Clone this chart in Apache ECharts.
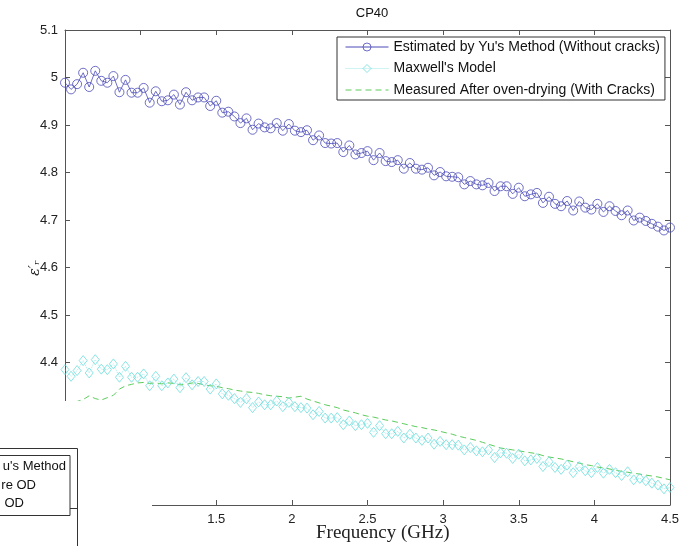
<!DOCTYPE html>
<html>
<head>
<meta charset="utf-8">
<script src="https://cdn.jsdelivr.net/npm/echarts@6/dist/echarts.min.js"></script>
<style>html,body{margin:0;padding:0;background:#fff;}#c{width:692px;height:546px;}</style>
</head>
<body>
<div id="c"></div>
<script>
var freq = [0.50,0.54,0.58,0.62,0.66,0.70,0.74,0.78,0.82,0.86,
 0.90,0.94,0.98,1.02,1.06,1.10,1.14,1.18,1.22,1.26,
 1.30,1.34,1.38,1.42,1.46,1.50,1.54,1.58,1.62,1.66,
 1.70,1.74,1.78,1.82,1.86,1.90,1.94,1.98,2.02,2.06,
 2.10,2.14,2.18,2.22,2.26,2.30,2.34,2.38,2.42,2.46,
 2.50,2.54,2.58,2.62,2.66,2.70,2.74,2.78,2.82,2.86,
 2.90,2.94,2.98,3.02,3.06,3.10,3.14,3.18,3.22,3.26,
 3.30,3.34,3.38,3.42,3.46,3.50,3.54,3.58,3.62,3.66,
 3.70,3.74,3.78,3.82,3.86,3.90,3.94,3.98,4.02,4.06,
 4.10,4.14,4.18,4.22,4.26,4.30,4.34,4.38,4.42,4.46,
 4.50];
var yuMethod = [4.989,4.975,4.986,5.010,4.980,5.014,4.993,4.989,5.003,4.969,
 4.995,4.968,4.968,4.978,4.947,4.971,4.950,4.952,4.964,4.943,
 4.969,4.952,4.958,4.958,4.940,4.951,4.926,4.928,4.918,4.904,
 4.914,4.890,4.903,4.895,4.893,4.904,4.888,4.902,4.888,4.885,
 4.889,4.868,4.878,4.862,4.861,4.862,4.843,4.857,4.838,4.841,
 4.845,4.826,4.841,4.824,4.822,4.826,4.808,4.820,4.808,4.806,
 4.810,4.794,4.801,4.792,4.791,4.790,4.775,4.782,4.775,4.773,
 4.778,4.761,4.771,4.771,4.755,4.768,4.750,4.754,4.757,4.736,
 4.749,4.734,4.729,4.740,4.720,4.739,4.726,4.722,4.734,4.717,
 4.729,4.719,4.710,4.720,4.699,4.705,4.698,4.692,4.686,4.678,
 4.684];
var maxwell = [4.385,4.371,4.383,4.404,4.378,4.406,4.386,4.385,4.397,4.369,
 4.392,4.369,4.369,4.376,4.351,4.371,4.351,4.357,4.365,4.347,
 4.368,4.353,4.360,4.360,4.344,4.355,4.334,4.331,4.324,4.316,
 4.324,4.305,4.317,4.311,4.311,4.319,4.307,4.316,4.307,4.305,
 4.304,4.290,4.297,4.283,4.283,4.284,4.269,4.277,4.267,4.269,
 4.272,4.253,4.267,4.250,4.250,4.255,4.241,4.249,4.241,4.236,
 4.241,4.228,4.234,4.227,4.227,4.226,4.216,4.221,4.214,4.212,
 4.216,4.200,4.210,4.209,4.198,4.207,4.193,4.195,4.198,4.181,
 4.191,4.179,4.175,4.184,4.168,4.181,4.172,4.168,4.179,4.167,
 4.175,4.168,4.162,4.170,4.153,4.156,4.151,4.146,4.142,4.134,
 4.137];
var measured = [4.318,4.315,4.318,4.322,4.330,4.324,4.321,4.326,4.331,4.344,
 4.351,4.354,4.357,4.358,4.356,4.357,4.355,4.357,4.356,4.353,
 4.354,4.357,4.356,4.353,4.351,4.350,4.347,4.345,4.342,4.340,
 4.338,4.337,4.335,4.332,4.330,4.329,4.328,4.325,4.327,4.329,
 4.323,4.319,4.315,4.311,4.308,4.305,4.300,4.297,4.294,4.290,
 4.287,4.285,4.282,4.279,4.277,4.274,4.271,4.268,4.265,4.263,
 4.260,4.258,4.255,4.252,4.249,4.245,4.242,4.239,4.236,4.232,
 4.228,4.224,4.220,4.218,4.216,4.214,4.212,4.210,4.208,4.204,
 4.201,4.199,4.197,4.194,4.191,4.188,4.185,4.183,4.180,4.178,
 4.176,4.173,4.171,4.169,4.167,4.165,4.163,4.161,4.159,4.156,
 4.153];
var seriesNames = ["Estimated by Yu's Method (Without cracks)", "Maxwell's Model", "Measured After oven-drying (With Cracks)"];
var overlayLegend = ["u's Method", "re OD", "OD"];

function pairs(ys){ return freq.map(function(f,i){ return [f, ys[i]]; }); }

var axisColor = '#555';
var blue = '#4a4ab8', cyan = '#6fdcdc', green = '#5ccc5c';
var clear = 'rgba(0,0,0,0)';
var chart = echarts.init(document.getElementById('c'), null, {renderer:'canvas'});
chart.setOption({
  backgroundColor: '#fff',
  animation: false,
  title: { text: 'CP40', left: 367, top: 2, textAlign: 'center',
    textStyle: { fontFamily: 'Liberation Sans, Arial', fontSize: 13, fontWeight: 'normal', color: '#111' } },
  grid: { left: 65, right: 22, top: 30, bottom: 41 },
  legend: {
    left: 337, top: 37, orient: 'vertical',
    backgroundColor: '#fff', borderColor: '#333', borderWidth: 1, borderRadius: 0,
    padding: [3, 5, 3, 8], itemGap: 7.5, itemWidth: 43, itemHeight: 10,
    textStyle: { fontFamily: 'Liberation Sans, Arial', fontSize: 14, lineHeight: 14, color: '#111' },
    data: [
      { name: seriesNames[0], itemStyle: { color: clear, borderColor: blue, borderWidth: 0.8 }, lineStyle: { width: 1, color: blue, type: 'solid' } },
      { name: seriesNames[1], itemStyle: { color: clear, borderColor: cyan, borderWidth: 0.8 }, lineStyle: { width: 1, color: '#9ee8e8', type: 'dotted' } },
      { name: seriesNames[2], itemStyle: { color: clear, borderColor: clear, borderWidth: 0 }, lineStyle: { width: 1, color: green, type: [6, 4] } }
    ]
  },
  xAxis: [
    { type: 'value', min: 0.5, max: 4.5, interval: 0.5, position: 'bottom',
      axisLine: { show: true, lineStyle: { color: axisColor } },
      axisTick: { show: true, inside: true, length: 5, lineStyle: { color: axisColor } },
      axisLabel: { fontFamily: 'Liberation Sans, Arial', fontSize: 13, color: '#222', margin: 8 },
      splitLine: { show: false } },
    { type: 'value', min: 0.5, max: 4.5, interval: 0.5, position: 'top',
      axisLine: { show: true, lineStyle: { color: axisColor } },
      axisTick: { show: true, inside: true, length: 5, lineStyle: { color: axisColor } },
      axisLabel: { show: false }, splitLine: { show: false } }
  ],
  yAxis: [
    { type: 'value', min: 4.1, max: 5.1, interval: 0.1, position: 'left',
      axisLine: { show: true, lineStyle: { color: axisColor } },
      axisTick: { show: true, inside: true, length: 5, lineStyle: { color: axisColor } },
      axisLabel: { fontFamily: 'Liberation Sans, Arial', fontSize: 13, color: '#222', margin: 7,
        formatter: function(v){ return String(+v.toFixed(1)); } },
      splitLine: { show: false } },
    { type: 'value', min: 4.1, max: 5.1, interval: 0.1, position: 'right',
      axisLine: { show: true, lineStyle: { color: axisColor } },
      axisTick: { show: true, inside: true, length: 5, lineStyle: { color: axisColor } },
      axisLabel: { show: false }, splitLine: { show: false } }
  ],
  series: [
    { name: seriesNames[0], type: 'line', data: pairs(yuMethod),
      symbol: 'circle', symbolSize: 9, color: blue,
      lineStyle: { width: 0.8, color: blue },
      itemStyle: { color: clear, borderColor: blue, borderWidth: 0.8 } },
    { name: seriesNames[1], type: 'line', data: pairs(maxwell),
      symbol: 'diamond', symbolSize: [8, 10], color: cyan,
      lineStyle: { width: 1, color: '#a8ecec', type: 'dotted' },
      itemStyle: { color: clear, borderColor: cyan, borderWidth: 0.8 } },
    { name: seriesNames[2], type: 'line', data: pairs(measured),
      symbol: 'none', showSymbol: false, color: green,
      lineStyle: { width: 1, color: green, type: [6, 4] } }
  ],
  graphic: [
    { type: 'text', z: 50, left: 316, top: 524,
      style: { text: 'Frequency (GHz)', font: '19px "Liberation Serif", serif', fill: '#222' } },
    { type: 'text', z: 50, x: 35, y: 268, rotation: Math.PI / 2,
      style: { text: 'ε′ᵣ', font: 'italic 14px "DejaVu Serif", serif', fill: '#222', textAlign: 'center', textVerticalAlign: 'middle' } },
    { type: 'rect', z: 100, shape: { x: 0, y: 401, width: 152, height: 145 }, style: { fill: '#fff' } },
    { type: 'polyline', z: 101, shape: { points: [[0, 448.5], [77.5, 448.5], [77.5, 546]] },
      style: { stroke: '#333', fill: null, lineWidth: 1 } },
    { type: 'rect', z: 101, shape: { x: -2, y: 455.5, width: 72, height: 60 },
      style: { stroke: '#333', fill: '#fff', lineWidth: 1 } },
    { type: 'line', z: 101, shape: { x1: 70, y1: 508.5, x2: 77, y2: 508.5 }, style: { stroke: '#333', lineWidth: 1 } },
    { type: 'text', z: 102, x: 66, y: 466, style: { text: overlayLegend[0], textAlign: 'right', textVerticalAlign: 'middle', font: '13px "Liberation Sans", Arial', fill: '#111' } },
    { type: 'text', z: 102, x: 36, y: 485, style: { text: overlayLegend[1], textAlign: 'right', textVerticalAlign: 'middle', font: '13px "Liberation Sans", Arial', fill: '#111' } },
    { type: 'text', z: 102, x: 24, y: 503, style: { text: overlayLegend[2], textAlign: 'right', textVerticalAlign: 'middle', font: '13px "Liberation Sans", Arial', fill: '#111' } }
  ]
});
</script>
</body>
</html>
